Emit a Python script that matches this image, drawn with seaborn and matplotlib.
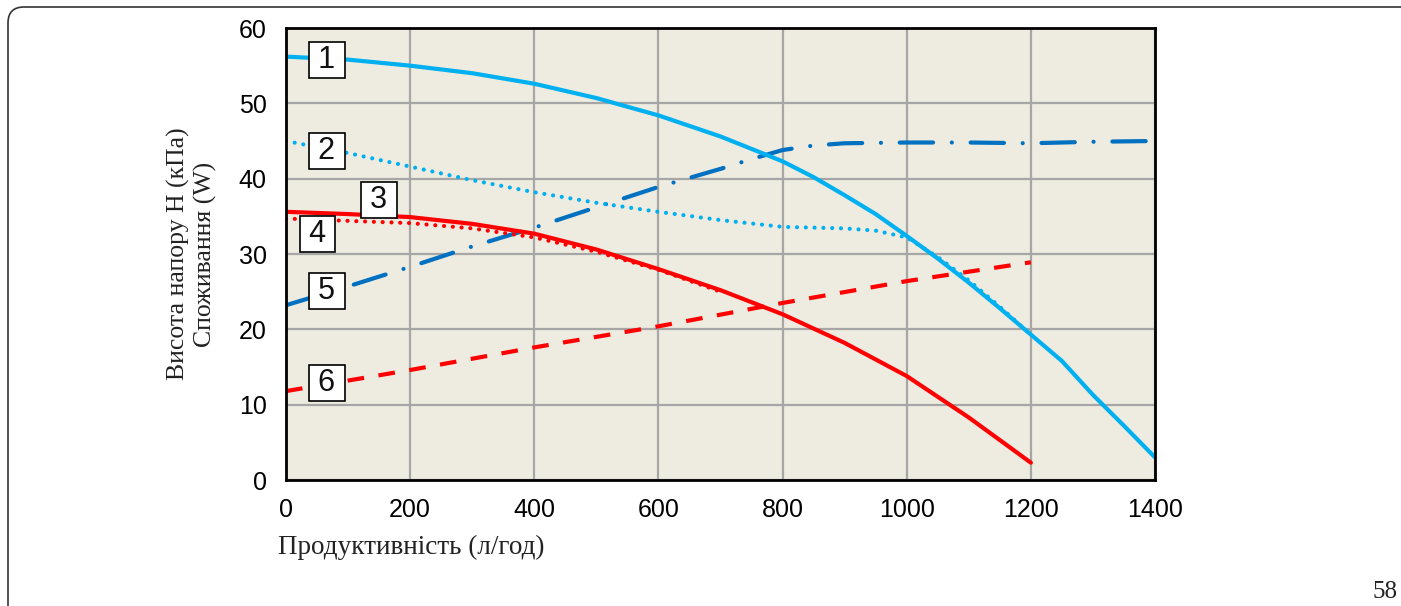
"""Pump performance curves: head and power consumption vs flow"""

import matplotlib
matplotlib.use("Agg")
import matplotlib.pyplot as plt
import seaborn as sns
import pandas as pd
from matplotlib.patches import FancyBboxPatch
from matplotlib.transforms import IdentityTransform

# Curve 1 - head, light blue solid
q_1 = [0, 100, 200, 300, 400, 500, 600, 700, 800, 850, 900, 950, 1000, 1050, 1100, 1150, 1200, 1250, 1300, 1350, 1400]
h_1 = [56.2, 55.8, 55.0, 54.0, 52.6, 50.7, 48.4, 45.6, 42.3, 40.2, 37.8, 35.3, 32.4, 29.4, 26.2, 22.8, 19.3, 15.8, 11.3, 7.2, 3.0]

# Curve 2 - head, light blue dotted
q_2 = [0, 100, 200, 300, 400, 500, 600, 700, 800, 900, 950, 1000, 1050, 1100, 1150, 1200]
h_2 = [45.0, 43.4, 41.6, 39.8, 38.2, 36.8, 35.6, 34.5, 33.6, 33.4, 33.1, 32.2, 29.6, 26.5, 23.0, 19.3]

# Curve 3 - head, red solid
q_3 = [0, 100, 200, 300, 400, 500, 600, 700, 800, 900, 1000, 1100, 1200]
h_3 = [35.6, 35.3, 34.9, 34.0, 32.7, 30.6, 28.0, 25.2, 22.0, 18.2, 13.8, 8.3, 2.3]

# Curve 4 - head, red dotted
q_4 = [0, 100, 200, 300, 400, 500, 600, 700]
h_4 = [34.7, 34.4, 34.1, 33.4, 32.2, 30.3, 27.9, 25.0]

# Curve 5 - power, dark blue dash-dot
q_5 = [0, 100, 200, 300, 400, 500, 600, 700, 750, 800, 850, 900, 1000, 1100, 1200, 1300, 1400]
p_5 = [23.2, 25.7, 28.3, 31.0, 33.5, 36.2, 38.9, 41.3, 42.6, 43.8, 44.4, 44.7, 44.8, 44.8, 44.7, 44.9, 45.0]

# Curve 6 - power, red dashed
q_6 = [0, 200, 400, 600, 800, 1000, 1200]
p_6 = [11.8, 14.6, 17.6, 20.4, 23.5, 26.4, 28.9]

# Curve number boxes
label_names = ["1", "2", "3", "4", "5", "6"]
label_x = [66, 66, 150, 51, 66, 66]
label_y = [55.7, 43.7, 37.2, 32.6, 25.1, 12.9]

x_ticks = [0, 200, 400, 600, 800, 1000, 1200, 1400]
y_ticks = [0, 10, 20, 30, 40, 50, 60]

LIGHT_BLUE = "#00B0F0"
DARK_BLUE = "#0070C0"
RED = "#FF0000"

sns.set_style("white")
plt.rcParams["font.family"] = ["Liberation Sans", "DejaVu Sans"]
SERIF = ["Liberation Serif", "DejaVu Serif"]

fig = plt.figure(figsize=(14.01, 6.06), dpi=100)
ax = fig.add_axes([286 / 1401, 126 / 606, 869 / 1401, 452 / 606])
ax.set_facecolor("#EEEBE0")

curves = [
    (q_6, p_6, RED, dict(linestyle=(0, (4, 3.5)))),
    (q_5, p_5, DARK_BLUE, dict(linestyle=(0, (8, 4.5, 0.01, 4.5)), dash_capstyle="round")),
    (q_4, h_4, RED, dict(linestyle=(0, (0.01, 2.1)), dash_capstyle="round")),
    (q_3, h_3, RED, dict()),
    (q_2, h_2, LIGHT_BLUE, dict(linestyle=(0, (0.01, 2.1)), dash_capstyle="round")),
    (q_1, h_1, LIGHT_BLUE, dict()),
]
for q, h, col, kw in curves:
    df = pd.DataFrame({"q": q, "h": h})
    sns.lineplot(data=df, x="q", y="h", ax=ax, color=col, linewidth=3,
                 sort=False, **kw)

for name, lx, ly in zip(label_names, label_x, label_y):
    ax.text(lx, ly, "\u2009" + name + "\u2009", ha="center", va="center",
            fontsize=22, zorder=5, color="#111111",
            bbox=dict(boxstyle="square,pad=0.1", facecolor="white",
                      edgecolor="black", linewidth=1.2))

ax.set_xlim(0, 1400)
ax.set_ylim(0, 60)
ax.set_xticks(x_ticks)
ax.set_yticks(y_ticks)
ax.tick_params(axis="both", length=0, labelsize=18, labelcolor="black")
ax.tick_params(axis="x", pad=13)
ax.tick_params(axis="y", pad=14)
ax.grid(True, color="#A6A6A6", linewidth=1.6)
ax.set_axisbelow(True)
for side in ["left", "bottom", "right", "top"]:
    ax.spines[side].set_color("black")
    ax.spines[side].set_linewidth(2)
ax.set_xlabel("")
ax.set_ylabel("")

ax.text(-0.108, 0.5, "Висота напору Н (кПа)\nСпоживання (W)", transform=ax.transAxes,
        rotation=90, ha="center", va="center", multialignment="center",
        fontsize=18.5, family=SERIF, linespacing=1.25, color="#222222")
ax.text(-0.009, -0.150, "Продуктивність (л/год)", transform=ax.transAxes,
        ha="left", va="center", fontsize=19.5, family=SERIF, color="#222222")

fig.text(1398 / 1401, 1 - 592 / 606, "58", ha="right", va="center",
         fontsize=18, family=SERIF, color="#222222")

# rounded page frame (open to the right and bottom)
frame = FancyBboxPatch((8, -60), 1600, 599 + 60,
                       boxstyle="round,pad=0,rounding_size=16",
                       transform=IdentityTransform(), facecolor="none",
                       edgecolor="#333333", linewidth=1.2)
fig.patches.append(frame)

fig.savefig("out.png", dpi=100)
